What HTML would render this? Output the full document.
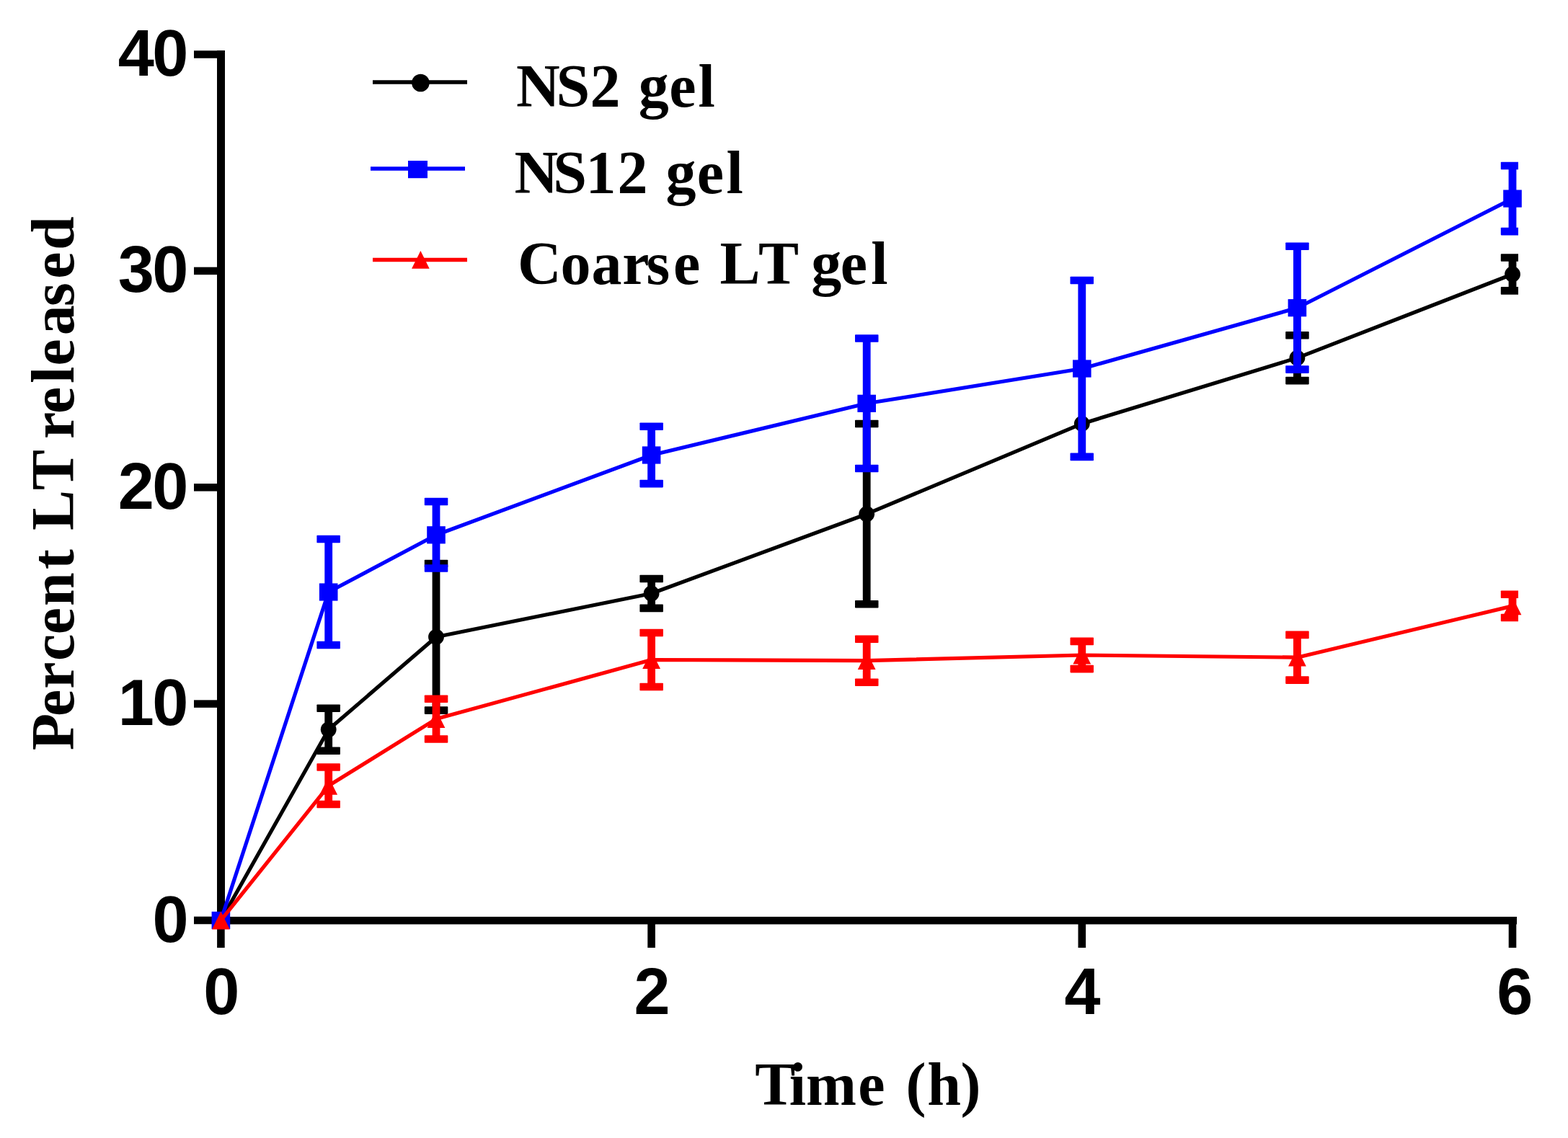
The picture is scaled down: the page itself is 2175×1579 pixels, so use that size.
<!DOCTYPE html>
<html><head><meta charset="utf-8"><style>html,body{margin:0;padding:0;background:#fff}svg{display:block}</style></head>
<body>
<svg width="2175" height="1579" viewBox="0 0 2175 1579">
<defs><clipPath id="clip"><rect x="0" y="0" width="2106" height="1579"/></clipPath></defs>
<rect width="2175" height="1579" fill="#fff"/>
<rect x="301" y="70" width="11" height="1212" fill="#000"/>
<rect x="301" y="1272" width="1803" height="10.5" fill="#000"/>
<rect x="269" y="70.25" width="33" height="10.5" fill="#000"/>
<rect x="269" y="370.65" width="33" height="10.5" fill="#000"/>
<rect x="269" y="671.05" width="33" height="10.5" fill="#000"/>
<rect x="269" y="971.35" width="33" height="10.5" fill="#000"/>
<rect x="269" y="1271.75" width="33" height="10.5" fill="#000"/>
<rect x="301.10" y="1277" width="10.6" height="38" fill="#000"/>
<rect x="898.30" y="1277" width="10.6" height="38" fill="#000"/>
<rect x="1495.50" y="1277" width="10.6" height="38" fill="#000"/>
<rect x="2092.70" y="1277" width="10.6" height="38" fill="#000"/>
<polyline points="306.4,1277.0 455.7,1012.3 605.0,883.8 903.6,823.5 1202.2,713.2 1500.8,587.9 1799.4,496.6 2098.0,380.5" fill="none" stroke="#000000" stroke-width="5.2" stroke-linejoin="round"/>
<g clip-path="url(#clip)"><line x1="455.7" y1="982.8" x2="455.7" y2="1041.8" stroke="#000000" stroke-width="10.8"/><rect x="439.4" y="977.5" width="32.5" height="10.6" rx="0.8" fill="#000000"/><rect x="439.4" y="1036.5" width="32.5" height="10.6" rx="0.8" fill="#000000"/><line x1="605.0" y1="782.0" x2="605.0" y2="985.6" stroke="#000000" stroke-width="10.8"/><rect x="588.8" y="776.7" width="32.5" height="10.6" rx="0.8" fill="#000000"/><rect x="588.8" y="980.3" width="32.5" height="10.6" rx="0.8" fill="#000000"/><line x1="903.6" y1="803.0" x2="903.6" y2="843.9" stroke="#000000" stroke-width="10.8"/><rect x="887.4" y="797.7" width="32.5" height="10.6" rx="0.8" fill="#000000"/><rect x="887.4" y="838.6" width="32.5" height="10.6" rx="0.8" fill="#000000"/><line x1="1202.2" y1="588.0" x2="1202.2" y2="838.3" stroke="#000000" stroke-width="10.8"/><rect x="1186.0" y="582.7" width="32.5" height="10.6" rx="0.8" fill="#000000"/><rect x="1186.0" y="833.0" width="32.5" height="10.6" rx="0.8" fill="#000000"/><line x1="1799.4" y1="465.3" x2="1799.4" y2="528.1" stroke="#000000" stroke-width="10.8"/><rect x="1783.2" y="460.0" width="32.5" height="10.6" rx="0.8" fill="#000000"/><rect x="1783.2" y="522.8" width="32.5" height="10.6" rx="0.8" fill="#000000"/><line x1="2098.0" y1="357.5" x2="2098.0" y2="403.4" stroke="#000000" stroke-width="10.8"/><rect x="2081.8" y="352.2" width="32.5" height="10.6" rx="0.8" fill="#000000"/><rect x="2081.8" y="398.1" width="32.5" height="10.6" rx="0.8" fill="#000000"/></g>
<circle cx="306.4" cy="1277.0" r="10.9" fill="#000000"/>
<circle cx="455.7" cy="1012.3" r="10.9" fill="#000000"/>
<circle cx="605.0" cy="883.8" r="10.9" fill="#000000"/>
<circle cx="903.6" cy="823.5" r="10.9" fill="#000000"/>
<circle cx="1202.2" cy="713.2" r="10.9" fill="#000000"/>
<circle cx="1500.8" cy="587.9" r="10.9" fill="#000000"/>
<circle cx="1799.4" cy="496.6" r="10.9" fill="#000000"/>
<circle cx="2098.0" cy="380.5" r="10.9" fill="#000000"/>
<polyline points="306.4,1277.0 455.7,821.5 605.0,742.3 903.6,631.5 1202.2,559.8 1500.8,511.5 1799.4,427.2 2098.0,275.6" fill="none" stroke="#0000ff" stroke-width="5.2" stroke-linejoin="round"/>
<g clip-path="url(#clip)"><line x1="455.7" y1="748.0" x2="455.7" y2="895.0" stroke="#0000ff" stroke-width="10.8"/><rect x="439.4" y="742.7" width="32.5" height="10.6" rx="0.8" fill="#0000ff"/><rect x="439.4" y="889.7" width="32.5" height="10.6" rx="0.8" fill="#0000ff"/><line x1="605.0" y1="696.0" x2="605.0" y2="788.5" stroke="#0000ff" stroke-width="10.8"/><rect x="588.8" y="690.7" width="32.5" height="10.6" rx="0.8" fill="#0000ff"/><rect x="588.8" y="783.2" width="32.5" height="10.6" rx="0.8" fill="#0000ff"/><line x1="903.6" y1="591.8" x2="903.6" y2="671.1" stroke="#0000ff" stroke-width="10.8"/><rect x="887.4" y="586.5" width="32.5" height="10.6" rx="0.8" fill="#0000ff"/><rect x="887.4" y="665.8" width="32.5" height="10.6" rx="0.8" fill="#0000ff"/><line x1="1202.2" y1="469.5" x2="1202.2" y2="650.0" stroke="#0000ff" stroke-width="10.8"/><rect x="1186.0" y="464.2" width="32.5" height="10.6" rx="0.8" fill="#0000ff"/><rect x="1186.0" y="644.7" width="32.5" height="10.6" rx="0.8" fill="#0000ff"/><line x1="1500.8" y1="389.0" x2="1500.8" y2="633.9" stroke="#0000ff" stroke-width="10.8"/><rect x="1484.5" y="383.7" width="32.5" height="10.6" rx="0.8" fill="#0000ff"/><rect x="1484.5" y="628.6" width="32.5" height="10.6" rx="0.8" fill="#0000ff"/><line x1="1799.4" y1="341.8" x2="1799.4" y2="512.6" stroke="#0000ff" stroke-width="10.8"/><rect x="1783.2" y="336.5" width="32.5" height="10.6" rx="0.8" fill="#0000ff"/><rect x="1783.2" y="507.3" width="32.5" height="10.6" rx="0.8" fill="#0000ff"/><line x1="2098.0" y1="230.0" x2="2098.0" y2="321.1" stroke="#0000ff" stroke-width="10.8"/><rect x="2081.8" y="224.7" width="32.5" height="10.6" rx="0.8" fill="#0000ff"/><rect x="2081.8" y="315.8" width="32.5" height="10.6" rx="0.8" fill="#0000ff"/></g>
<rect x="293.6" y="1264.9" width="25.6" height="24.2" fill="#0000ff"/>
<rect x="442.9" y="809.4" width="25.6" height="24.2" fill="#0000ff"/>
<rect x="592.2" y="730.2" width="25.6" height="24.2" fill="#0000ff"/>
<rect x="890.8" y="619.4" width="25.6" height="24.2" fill="#0000ff"/>
<rect x="1189.4" y="547.7" width="25.6" height="24.2" fill="#0000ff"/>
<rect x="1488.0" y="499.4" width="25.6" height="24.2" fill="#0000ff"/>
<rect x="1786.6" y="415.1" width="25.6" height="24.2" fill="#0000ff"/>
<rect x="2085.2" y="263.5" width="25.6" height="24.2" fill="#0000ff"/>
<polyline points="306.4,1277.0 455.7,1090.3 605.0,997.6 903.6,915.5 1202.2,916.7 1500.8,909.0 1799.4,912.2 2098.0,840.9" fill="none" stroke="#ff0000" stroke-width="5.2" stroke-linejoin="round"/>
<g clip-path="url(#clip)"><line x1="455.7" y1="1064.5" x2="455.7" y2="1116.0" stroke="#ff0000" stroke-width="10.8"/><rect x="439.4" y="1059.2" width="32.5" height="10.6" rx="0.8" fill="#ff0000"/><rect x="439.4" y="1110.7" width="32.5" height="10.6" rx="0.8" fill="#ff0000"/><line x1="605.0" y1="969.8" x2="605.0" y2="1025.5" stroke="#ff0000" stroke-width="10.8"/><rect x="588.8" y="964.5" width="32.5" height="10.6" rx="0.8" fill="#ff0000"/><rect x="588.8" y="1020.2" width="32.5" height="10.6" rx="0.8" fill="#ff0000"/><line x1="903.6" y1="878.0" x2="903.6" y2="953.0" stroke="#ff0000" stroke-width="10.8"/><rect x="887.4" y="872.7" width="32.5" height="10.6" rx="0.8" fill="#ff0000"/><rect x="887.4" y="947.7" width="32.5" height="10.6" rx="0.8" fill="#ff0000"/><line x1="1202.2" y1="886.8" x2="1202.2" y2="946.7" stroke="#ff0000" stroke-width="10.8"/><rect x="1186.0" y="881.5" width="32.5" height="10.6" rx="0.8" fill="#ff0000"/><rect x="1186.0" y="941.4" width="32.5" height="10.6" rx="0.8" fill="#ff0000"/><line x1="1500.8" y1="889.9" x2="1500.8" y2="928.1" stroke="#ff0000" stroke-width="10.8"/><rect x="1484.5" y="884.6" width="32.5" height="10.6" rx="0.8" fill="#ff0000"/><rect x="1484.5" y="922.8" width="32.5" height="10.6" rx="0.8" fill="#ff0000"/><line x1="1799.4" y1="880.9" x2="1799.4" y2="943.6" stroke="#ff0000" stroke-width="10.8"/><rect x="1783.2" y="875.6" width="32.5" height="10.6" rx="0.8" fill="#ff0000"/><rect x="1783.2" y="938.3" width="32.5" height="10.6" rx="0.8" fill="#ff0000"/><line x1="2098.0" y1="824.7" x2="2098.0" y2="857.0" stroke="#ff0000" stroke-width="10.8"/><rect x="2081.8" y="819.4" width="32.5" height="10.6" rx="0.8" fill="#ff0000"/><rect x="2081.8" y="851.7" width="32.5" height="10.6" rx="0.8" fill="#ff0000"/></g>
<polygon points="306.4,1264.6 318.8,1289.4 294.0,1289.4" fill="#ff0000"/>
<polygon points="455.7,1077.9 468.1,1102.7 443.3,1102.7" fill="#ff0000"/>
<polygon points="605.0,985.2 617.4,1010.0 592.6,1010.0" fill="#ff0000"/>
<polygon points="903.6,903.1 916.0,927.9 891.2,927.9" fill="#ff0000"/>
<polygon points="1202.2,904.3 1214.6,929.1 1189.8,929.1" fill="#ff0000"/>
<polygon points="1500.8,896.6 1513.2,921.4 1488.4,921.4" fill="#ff0000"/>
<polygon points="1799.4,899.8 1811.8,924.6 1787.0,924.6" fill="#ff0000"/>
<polygon points="2098.0,828.5 2110.4,853.3 2085.6,853.3" fill="#ff0000"/>
<text x="258.9" y="105.0" font-family="Liberation Sans, Arial, sans-serif" font-weight="bold" font-size="90" text-anchor="end" letter-spacing="-2.5">40</text>
<text x="258.9" y="405.4" font-family="Liberation Sans, Arial, sans-serif" font-weight="bold" font-size="90" text-anchor="end" letter-spacing="-2.5">30</text>
<text x="258.9" y="705.8" font-family="Liberation Sans, Arial, sans-serif" font-weight="bold" font-size="90" text-anchor="end" letter-spacing="-2.5">20</text>
<text x="258.9" y="1006.1" font-family="Liberation Sans, Arial, sans-serif" font-weight="bold" font-size="90" text-anchor="end" letter-spacing="-2.5">10</text>
<text x="261.5" y="1306.5" font-family="Liberation Sans, Arial, sans-serif" font-weight="bold" font-size="90" text-anchor="end" letter-spacing="0">0</text>
<text x="307.3" y="1407.3" font-family="Liberation Sans, Arial, sans-serif" font-weight="bold" font-size="90" text-anchor="middle">0</text>
<text x="904.6" y="1407.3" font-family="Liberation Sans, Arial, sans-serif" font-weight="bold" font-size="90" text-anchor="middle">2</text>
<text x="1501.5" y="1407.3" font-family="Liberation Sans, Arial, sans-serif" font-weight="bold" font-size="90" text-anchor="middle">4</text>
<text x="2101.3" y="1407.3" font-family="Liberation Sans, Arial, sans-serif" font-weight="bold" font-size="90" text-anchor="middle">6</text>
<text x="1047.3 1094.8 1117.9 1190.2" y="1533" font-family="Liberation Serif, Times New Roman, serif" font-weight="bold" font-size="84">Time</text>
<text x="1256.5 1286.2 1332.6" y="1533" font-family="Liberation Serif, Times New Roman, serif" font-weight="bold" font-size="84">(h)</text>
<g transform="translate(102.3,1400) rotate(-90)"><text x="358.7 405.9 444.2 483.0 519.8 559.0 610.1" y="0" font-family="Liberation Serif, Times New Roman, serif" font-weight="bold" font-size="84">Percent</text><text x="663.9 720.0" y="0" font-family="Liberation Serif, Times New Roman, serif" font-weight="bold" font-size="84">LT</text><text x="791.0 826.0 868.0 892.6 934.7 974.9 1013.3 1053.1" y="0" font-family="Liberation Serif, Times New Roman, serif" font-weight="bold" font-size="84">released</text></g>
<line x1="517" y1="114" x2="648" y2="114" stroke="#000" stroke-width="5.5"/>
<circle cx="583.4" cy="115" r="12.3" fill="#000"/>
<line x1="514" y1="234" x2="645" y2="234" stroke="#0000ff" stroke-width="5.5"/>
<rect x="566" y="223" width="27" height="24.2" fill="#0000ff"/>
<line x1="517" y1="360.5" x2="648" y2="360.5" stroke="#ff0000" stroke-width="5.5"/>
<polygon points="583.4,348 595.7,372.7 571.1,372.7" fill="#ff0000"/>
<text x="716.1 771.4 818.5" y="148.3" font-family="Liberation Serif, Times New Roman, serif" font-weight="bold" font-size="84">NS2</text>
<text x="885.8 928.2 968.6" y="148.3" font-family="Liberation Serif, Times New Roman, serif" font-weight="bold" font-size="84">gel</text>
<text x="713.5 767.3 812.4 856.5" y="268" font-family="Liberation Serif, Times New Roman, serif" font-weight="bold" font-size="84">NS12</text>
<text x="923.6 966.8 1007.5" y="268" font-family="Liberation Serif, Times New Roman, serif" font-weight="bold" font-size="84">gel</text>
<text x="718.0 777.6 820.4 863.2 896.4 933.9" y="394.3" font-family="Liberation Serif, Times New Roman, serif" font-weight="bold" font-size="84">Coarse</text>
<text x="998.5 1052.0" y="394.3" font-family="Liberation Serif, Times New Roman, serif" font-weight="bold" font-size="84">LT</text>
<text x="1125.2 1165.8 1208.2" y="394.3" font-family="Liberation Serif, Times New Roman, serif" font-weight="bold" font-size="84">gel</text>
</svg>
</body></html>
